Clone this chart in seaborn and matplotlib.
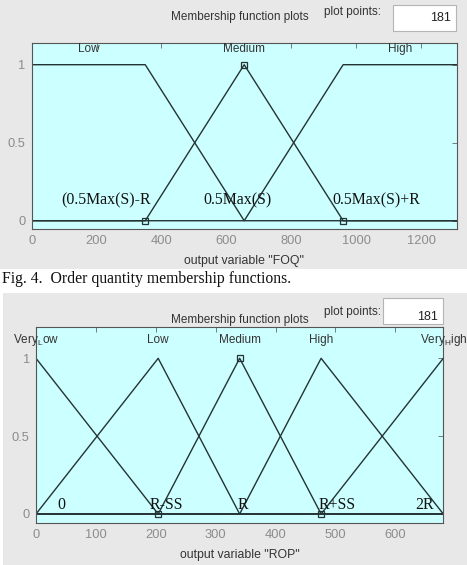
import matplotlib
matplotlib.use("Agg")
import matplotlib.pyplot as plt
import seaborn as sns
from matplotlib.patches import Rectangle

# ---- data -------------------------------------------------------------
# order quantity (FOQ) membership functions
foq_range = [0, 1310]
foq_low_x = [0, 350, 655, 1310]
foq_low_y = [1, 1, 0, 0]
foq_med_x = [0, 350, 655, 960, 1310]
foq_med_y = [0, 0, 1, 0, 0]
foq_high_x = [0, 655, 960, 1310]
foq_high_y = [0, 0, 1, 1]
foq_names = ['Low', 'Medium', 'High']
foq_name_x = [175, 655, 1135]
foq_ticks = [0, 200, 400, 600, 800, 1000, 1200]
foq_notes = ['(0.5Max(S)-R', '0.5Max(S)', '0.5Max(S)+R']
foq_note_x = [229, 633, 1061]

# reorder point (ROP) membership functions
rop_range = [0, 680]
rop_vlow_x = [0, 204, 680]
rop_vlow_y = [1, 0, 0]
rop_low_x = [0, 204, 340, 680]
rop_low_y = [0, 1, 0, 0]
rop_med_x = [0, 204, 340, 476, 680]
rop_med_y = [0, 0, 1, 0, 0]
rop_high_x = [0, 340, 476, 680]
rop_high_y = [0, 0, 1, 0]
rop_vhigh_x = [0, 476, 680]
rop_vhigh_y = [0, 0, 1]
rop_names = [r'Very$_{\mathregular{L}}$ow', 'Low', 'Medium', 'High',
             r'Very$_{\mathregular{H}}$igh']
rop_name_x = [0, 204, 340, 476, 680]
rop_ticks = [0, 100, 200, 300, 400, 500, 600]
rop_notes = ['0', 'R-SS', 'R', 'R+SS', '2R']
rop_note_x = [43, 217, 346, 502, 648]

# ---- style ------------------------------------------------------------
sns.set_style('white')
plt.rcParams['font.family'] = ['Liberation Sans', 'DejaVu Sans']

W, H = 467, 565
GRAY = '#e8e8e8'
CYAN = '#ccffff'
LINE = '#243333'
TICK = '#8c8c8c'
SERIF = ['Liberation Serif', 'DejaVu Serif']

fig = plt.figure(figsize=(W / 100, H / 100), dpi=100, facecolor='white')

# grey window backgrounds (behind the axes)
fig.patches.append(Rectangle((0, 1 - 269 / H), 1, 269 / H, transform=fig.transFigure,
                             facecolor=GRAY, edgecolor='none', zorder=-5))
fig.patches.append(Rectangle((3 / W, 0), 1, 1 - 293 / H, transform=fig.transFigure,
                             facecolor=GRAY, edgecolor='none', zorder=-5))


def px_axes(l, t, r, b):
    return fig.add_axes([l / W, 1 - b / H, (r - l) / W, (b - t) / H])


def header(y_title, y_pts, box, y_num):
    fig.text(240 / W, 1 - y_title / H, 'Membership function plots', ha='center',
             va='center', fontsize=8.5, color='#333333')
    fig.text(352 / W, 1 - y_pts / H, 'plot points:', ha='center', va='center',
             fontsize=8.5, color='#333333')
    bl, bt, br, bb = box
    fig.patches.append(Rectangle((bl / W, 1 - bb / H), (br - bl) / W, (bb - bt) / H,
                                 transform=fig.transFigure, facecolor='white',
                                 edgecolor='#b4b4b4', lw=0.8, zorder=-4))
    fig.text((br - 5) / W, 1 - y_num / H, '181', ha='right', va='center',
             fontsize=9, color='#222222')


def style_axes(ax, xr, ylim, ticks):
    ax.set_facecolor(CYAN)
    ax.set_xlim(xr)
    ax.set_ylim(ylim)
    ax.set_xticks(ticks)
    ax.set_yticks([0, 0.5, 1])
    ax.set_yticklabels(['0', '0.5', '1'])
    ax.tick_params(direction='in', top=True, right=True, length=3.5, width=0.6,
                   color='#666666', labelcolor=TICK, labelsize=9.3)
    ax.tick_params(axis='x', pad=4.5)
    ax.tick_params(axis='y', pad=4.5)
    for s in ax.spines.values():
        s.set_color('#555555')
        s.set_linewidth(0.8)
    ax.set_xlabel('')
    ax.set_ylabel('')


def draw_mf(ax, xs, ys):
    sns.lineplot(x=xs, y=ys, ax=ax, color=LINE, lw=1.0, sort=False)


# ---- top panel: FOQ ---------------------------------------------------
header(17, 12, (393, 5, 456, 31), 18)
ax1 = px_axes(31.7, 42.7, 456.7, 229)
for xs, ys in [(foq_low_x, foq_low_y), (foq_med_x, foq_med_y), (foq_high_x, foq_high_y)]:
    draw_mf(ax1, xs, ys)
ax1.plot(foq_med_x[1:4], foq_med_y[1:4], ls='none', marker='s', ms=5,
         mfc='none', mec=LINE, mew=0.9, clip_on=False)
style_axes(ax1, foq_range, (-0.053, 1.141), foq_ticks)
for name, x in zip(foq_names, foq_name_x):
    ax1.text(x, 1.10, name, ha='center', va='center', fontsize=8.5, color='#333333')
for note, x in zip(foq_notes, foq_note_x):
    ax1.text(x, 0.128, note, ha='center', va='center', fontsize=11.4,
             family=SERIF, color='#111111')
fig.text(244 / W, 1 - 260.7 / H, 'output variable "FOQ"', ha='center', va='center',
         fontsize=8.8, color='#333333')

# caption
fig.text(2 / W, 1 - 279 / H, 'Fig. 4.  Order quantity membership functions.',
         ha='left', va='center', fontsize=11.3, family=SERIF, color='#111111')

# ---- bottom panel: ROP ------------------------------------------------
header(320, 311.5, (383, 298, 443, 324), 317)
ax2 = px_axes(36, 326.7, 443.3, 522.7)
for xs, ys in [(rop_vlow_x, rop_vlow_y), (rop_low_x, rop_low_y), (rop_med_x, rop_med_y),
               (rop_high_x, rop_high_y), (rop_vhigh_x, rop_vhigh_y)]:
    draw_mf(ax2, xs, ys)
ax2.plot(rop_med_x[1:4], rop_med_y[1:4], ls='none', marker='s', ms=5,
         mfc='none', mec=LINE, mew=0.9, clip_on=False)
style_axes(ax2, rop_range, (-0.056, 1.203), rop_ticks)
for name, x in zip(rop_names, rop_name_x):
    ax2.text(x, 1.12, name, ha='center', va='center', fontsize=8.5, color='#333333',
             clip_on=False)
for note, x in zip(rop_notes, rop_note_x):
    ax2.text(x, 0.058, note, ha='center', va='center', fontsize=11.4,
             family=SERIF, color='#111111')
fig.text(240 / W, 1 - 555 / H, 'output variable "ROP"', ha='center', va='center',
         fontsize=8.8, color='#333333')

fig.savefig('out.png', dpi=100, facecolor='white')
